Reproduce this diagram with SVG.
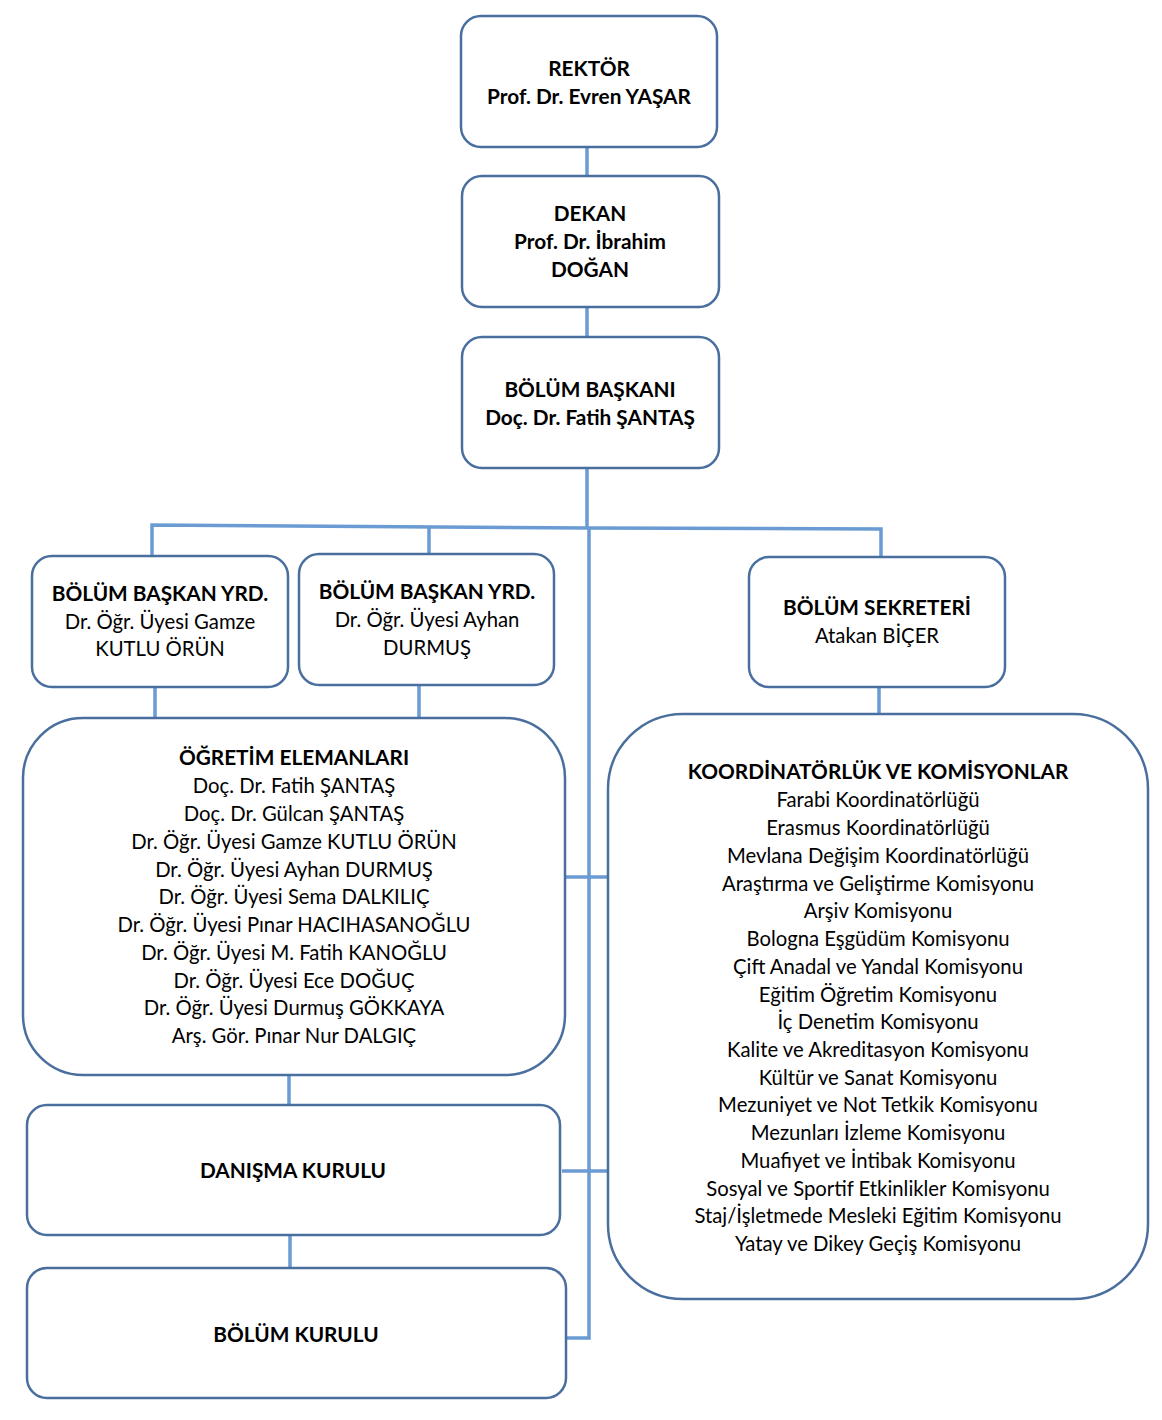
<svg xmlns="http://www.w3.org/2000/svg" width="1162" height="1420" viewBox="0 0 1162 1420">
<style>
.box{fill:#fff;stroke:#4a6f9e;stroke-width:2.5}
.c{fill:none;stroke:#6a9bd3;stroke-width:3.5}
text{font-family:Lato,"Open Sans",sans-serif;font-size:20.3px;fill:#000;text-anchor:middle}
.b{font-weight:bold;font-size:20.8px}
</style>
<rect width="1162" height="1420" fill="#fff"/>
<g id="connectors">
<path class="c" d="M587 147V176M587 307V337M587 468V528"/>
<path class="c" d="M152 557V525L587 528L881 529V557"/>
<path class="c" d="M429 554V527"/>
<path class="c" d="M589 527V1338H565"/>
<path class="c" d="M155 687V718M419 685V718M879 687V714"/>
<path class="c" d="M562 877H607M562 1171H612"/>
<path class="c" d="M289 1075V1105M290 1235V1268"/>
</g>
<g id="rektor">
<rect class="box" x="461" y="16" width="256" height="131" rx="20"/>
<text class="b" x="589" y="76">REKTÖR</text>
<text class="b" x="589" y="104">Prof. Dr. Evren YAŞAR</text>
</g>
<g id="dekan">
<rect class="box" x="462" y="176" width="257" height="131" rx="20"/>
<text class="b" x="590" y="221">DEKAN</text>
<text class="b" x="590" y="249">Prof. Dr. İbrahim</text>
<text class="b" x="590" y="277">DOĞAN</text>
</g>
<g id="bolum-baskani">
<rect class="box" x="462" y="337" width="257" height="131" rx="20"/>
<text class="b" x="590" y="397">BÖLÜM BAŞKANI</text>
<text class="b" x="590" y="425">Doç. Dr. Fatih ŞANTAŞ</text>
</g>
<g id="yrd1">
<rect class="box" x="32" y="556" width="256" height="131" rx="20"/>
<text class="b" x="160" y="601">BÖLÜM BAŞKAN YRD.</text>
<text x="160" y="629">Dr. Öğr. Üyesi Gamze</text>
<text x="160" y="656">KUTLU ÖRÜN</text>
</g>
<g id="yrd2">
<rect class="box" x="299" y="554" width="255" height="131" rx="20"/>
<text class="b" x="427" y="599">BÖLÜM BAŞKAN YRD.</text>
<text x="427" y="627">Dr. Öğr. Üyesi Ayhan</text>
<text x="427" y="655">DURMUŞ</text>
</g>
<g id="sekreter">
<rect class="box" x="749" y="557" width="256" height="130" rx="20"/>
<text class="b" x="877" y="615">BÖLÜM SEKRETERİ</text>
<text x="877" y="643">Atakan BİÇER</text>
</g>
<g id="ogretim">
<rect class="box" x="23" y="718" width="542" height="357" rx="60"/>
<text class="b" x="294" y="765">ÖĞRETİM ELEMANLARI</text>
<text x="294" y="793">Doç. Dr. Fatih ŞANTAŞ</text>
<text x="294" y="821">Doç. Dr. Gülcan ŞANTAŞ</text>
<text x="294" y="849">Dr. Öğr. Üyesi Gamze KUTLU ÖRÜN</text>
<text x="294" y="877">Dr. Öğr. Üyesi Ayhan DURMUŞ</text>
<text x="294" y="904">Dr. Öğr. Üyesi Sema DALKILIÇ</text>
<text x="294" y="932">Dr. Öğr. Üyesi Pınar HACIHASANOĞLU</text>
<text x="294" y="960">Dr. Öğr. Üyesi M. Fatih KANOĞLU</text>
<text x="294" y="988">Dr. Öğr. Üyesi Ece DOĞUÇ</text>
<text x="294" y="1015">Dr. Öğr. Üyesi Durmuş GÖKKAYA</text>
<text x="294" y="1043">Arş. Gör. Pınar Nur DALGIÇ</text>
</g>
<g id="koordinatorluk">
<rect class="box" x="608" y="714" width="540" height="585" rx="75"/>
<text class="b" x="878" y="779">KOORDİNATÖRLÜK VE KOMİSYONLAR</text>
<text x="878" y="807">Farabi Koordinatörlüğü</text>
<text x="878" y="835">Erasmus Koordinatörlüğü</text>
<text x="878" y="863">Mevlana Değişim Koordinatörlüğü</text>
<text x="878" y="891">Araştırma ve Geliştirme Komisyonu</text>
<text x="878" y="918">Arşiv Komisyonu</text>
<text x="878" y="946">Bologna Eşgüdüm Komisyonu</text>
<text x="878" y="974">Çift Anadal ve Yandal Komisyonu</text>
<text x="878" y="1002">Eğitim Öğretim Komisyonu</text>
<text x="878" y="1029">İç Denetim Komisyonu</text>
<text x="878" y="1057">Kalite ve Akreditasyon Komisyonu</text>
<text x="878" y="1085">Kültür ve Sanat Komisyonu</text>
<text x="878" y="1112">Mezuniyet ve Not Tetkik Komisyonu</text>
<text x="878" y="1140">Mezunları İzleme Komisyonu</text>
<text x="878" y="1168">Muafiyet ve İntibak Komisyonu</text>
<text x="878" y="1196">Sosyal ve Sportif Etkinlikler Komisyonu</text>
<text x="878" y="1223">Staj/İşletmede Mesleki Eğitim Komisyonu</text>
<text x="878" y="1251">Yatay ve Dikey Geçiş Komisyonu</text>
</g>
<g id="danisma">
<rect class="box" x="27" y="1105" width="533" height="130" rx="20"/>
<text class="b" x="293" y="1178">DANIŞMA KURULU</text>
</g>
<g id="bolum-kurulu">
<rect class="box" x="27" y="1268" width="539" height="130" rx="20"/>
<text class="b" x="296" y="1342">BÖLÜM KURULU</text>
</g>
</svg>
